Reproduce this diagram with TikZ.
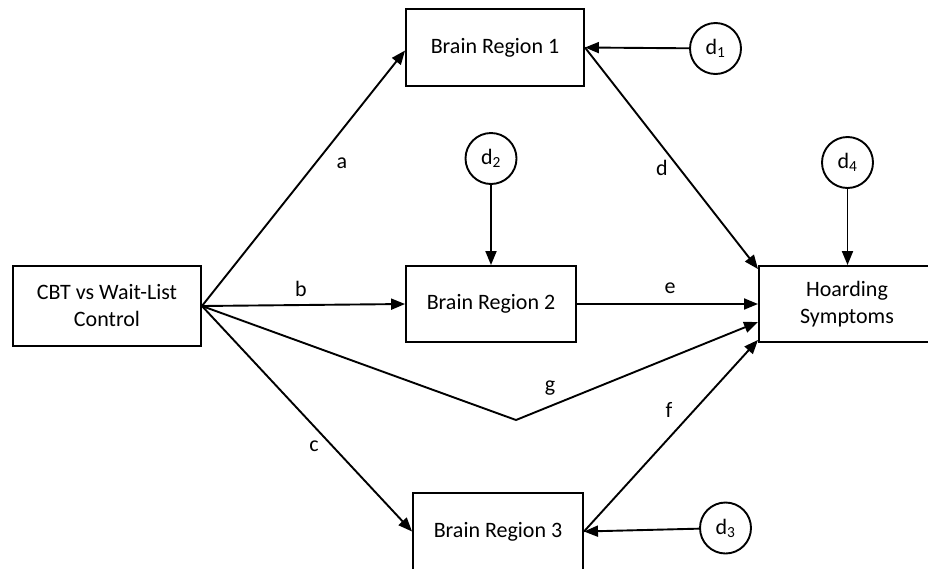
\documentclass[tikz,border=0pt]{standalone}
\usepackage{fontspec}
\setmainfont{Carlito}
\usetikzlibrary{arrows.meta}
\tikzset{
  box/.style={draw, line width=1.9pt, rectangle, inner sep=0pt, align=center, font=\fontsize{22}{27}\selectfont},
  dist/.style={draw, line width=1.9pt, circle, minimum size=51pt, inner sep=0pt, font=\fontsize{22}{27}\selectfont},
  arr/.style={line width=1.9pt, -{Triangle[length=14pt,width=11pt]}},
  lab/.style={font=\fontsize{22}{27}\selectfont, inner sep=0pt}
}
\begin{document}
\begin{tikzpicture}[x=1pt,y=-1pt]
\useasboundingbox (0,0) rectangle (928,568);
\node[box, minimum width=188pt, minimum height=80pt] (cbt) at (107,306) {CBT vs Wait-List\\Control};
\node[box, minimum width=178pt, minimum height=77pt] (br1) at (495,47.5) {Brain Region 1};
\node[box, minimum width=170pt, minimum height=76pt] (br2) at (491,304) {Brain Region 2};
\node[box, minimum width=170pt, minimum height=77pt] (br3) at (498,531.5) {Brain Region 3};
\node[box, minimum width=220pt, minimum height=76pt, anchor=west] (hs) at (758,304) {};
\node[lab, align=center] (hst) at (847,304) {Hoarding\\Symptoms};
\node[dist] (d1) at (715.5,48.5) {d\textsubscript{1}};
\node[dist] (d2) at (491,158.5) {d\textsubscript{2}};
\node[dist] (d3) at (725.5,528) {d\textsubscript{3}};
\node[dist] (d4) at (847.5,162.5) {d\textsubscript{4}};
\coordinate (gv) at (516,420);
\draw[arr] (cbt.east) -- ([yshift=-3pt]br1.west);
\draw[arr] (cbt.east) -- (br2.west);
\draw[arr] (cbt.east) -- (br3.west);
\draw[arr] (cbt.east) -- (gv) -- ([yshift=-18pt]hs.west);
\draw[arr] (br1.east) -- ([yshift=-4pt]hs.north west);
\draw[arr] (br2.east) -- (hs.west);
\draw[arr] (br3.east) -- ([yshift=3pt]hs.south west);
\draw[arr] (d1) -- (br1.east);
\draw[arr] (d2) -- (d2 |- br2.north);
\draw[arr] (d3) -- (br3.east);
\draw[arr] (d4) -- (d4 |- hs.north);
\node[lab] (la) at (342,163) {a};
\node[lab] (lb) at (301,289) {b};
\node[lab] (lc) at (314,446) {c};
\node[lab] (ld) at (662,168) {d};
\node[lab] (le) at (670,288) {e};
\node[lab] (lf) at (669,410) {f};
\node[lab] (lg) at (550,388) {g};
\end{tikzpicture}
\end{document}
